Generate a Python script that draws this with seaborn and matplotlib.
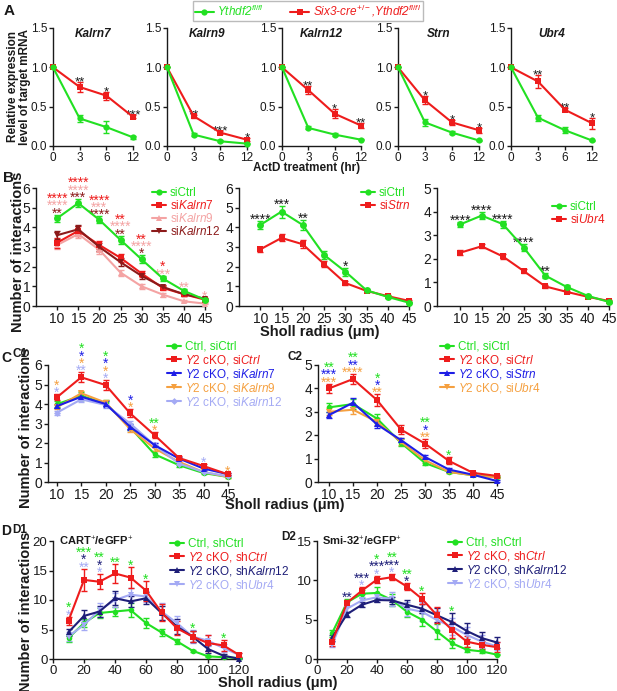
import matplotlib
matplotlib.use('Agg')
import matplotlib.pyplot as plt
import seaborn as sns
from matplotlib.lines import Line2D

# ---------------- data ----------------
# A: mRNA decay after ActD
a_times = [0, 3, 6, 12]
a_genes = ['Kalrn7', 'Kalrn9', 'Kalrn12', 'Strn', 'Ubr4']
a_ctrl = [[1.0, 0.35, 0.24, 0.11],
          [1.0, 0.145, 0.06, 0.03],
          [1.0, 0.23, 0.145, 0.08],
          [1.0, 0.30, 0.17, 0.07],
          [1.0, 0.36, 0.20, 0.07]]
a_ctrl_err = [[0, 0.04, 0.08, 0.02],
              [0, 0.02, 0.01, 0.01],
              [0, 0.02, 0.02, 0.01],
              [0, 0.04, 0.02, 0.01],
              [0, 0.04, 0.04, 0.01]]
a_cko = [[1.0, 0.75, 0.64, 0.37],
         [1.0, 0.38, 0.17, 0.08],
         [1.0, 0.71, 0.41, 0.26],
         [1.0, 0.58, 0.30, 0.20],
         [1.0, 0.82, 0.46, 0.29]]
a_cko_err = [[0, 0.06, 0.05, 0.02],
             [0, 0.02, 0.02, 0.02],
             [0, 0.05, 0.06, 0.03],
             [0, 0.05, 0.03, 0.03],
             [0, 0.08, 0.02, 0.07]]
a_stars = [['**', '*', '***'], ['**', '***', '*'], ['**', '*', '**'],
           ['*', '*', '*'], ['**', '**', '*']]

# B / C: sholl radius 10..45
r_small = [10, 15, 20, 25, 30, 35, 40, 45]
b1_siCtrl = [4.46, 5.23, 4.38, 3.36, 2.37, 1.40, 0.77, 0.32]
b1_siCtrl_err = [0.18, 0.2, 0.18, 0.22, 0.2, 0.15, 0.08, 0.05]
b1_siKalrn7 = [3.22, 3.82, 3.10, 2.45, 1.65, 0.92, 0.60, 0.32]
b1_siKalrn7_err = [0.25, 0.25, 0.2, 0.2, 0.15, 0.12, 0.08, 0.06]
b1_siKalrn9 = [3.10, 3.66, 2.85, 1.70, 1.00, 0.58, 0.24, 0.12]
b1_siKalrn9_err = [0.2, 0.2, 0.2, 0.15, 0.12, 0.1, 0.05, 0.03]
b1_siKalrn12 = [3.60, 3.90, 3.00, 2.23, 1.53, 0.97, 0.60, 0.37]
b1_siKalrn12_err = [0.2, 0.22, 0.18, 0.2, 0.15, 0.12, 0.08, 0.06]

b2_siCtrl = [4.12, 4.80, 4.12, 2.60, 1.75, 0.80, 0.46, 0.17]
b2_siCtrl_err = [0.2, 0.3, 0.25, 0.2, 0.2, 0.08, 0.06, 0.04]
b2_siStrn = [2.88, 3.46, 3.14, 2.14, 1.17, 0.77, 0.50, 0.26]
b2_siStrn_err = [0.12, 0.18, 0.2, 0.15, 0.08, 0.06, 0.05, 0.04]

b3_siCtrl = [3.46, 3.83, 3.47, 2.46, 1.29, 0.81, 0.43, 0.17]
b3_siCtrl_err = [0.12, 0.15, 0.15, 0.15, 0.12, 0.1, 0.05, 0.03]
b3_siUbr4 = [2.26, 2.53, 2.10, 1.47, 0.83, 0.60, 0.39, 0.21]
b3_siUbr4_err = [0.1, 0.08, 0.1, 0.08, 0.05, 0.05, 0.04, 0.03]

c1_ctrl = [3.99, 4.42, 4.03, 2.80, 1.42, 0.86, 0.46, 0.26]
c1_ctrl_err = [0.15, 0.2, 0.15, 0.15, 0.15, 0.08, 0.05, 0.04]
c1_cko = [4.34, 5.37, 4.97, 3.52, 2.40, 1.23, 0.82, 0.39]
c1_cko_err = [0.15, 0.25, 0.25, 0.2, 0.15, 0.08, 0.08, 0.05]
c1_siKalrn7 = [3.89, 4.37, 4.00, 2.83, 1.89, 1.20, 0.69, 0.40]
c1_siKalrn7_err = [0.1, 0.15, 0.15, 0.15, 0.12, 0.08, 0.05, 0.04]
c1_siKalrn9 = [3.83, 4.55, 4.07, 2.71, 1.72, 1.03, 0.51, 0.26]
c1_siKalrn9_err = [0.1, 0.12, 0.12, 0.15, 0.12, 0.08, 0.05, 0.04]
c1_siKalrn12 = [3.55, 4.24, 3.95, 3.00, 1.89, 0.94, 0.51, 0.29]
c1_siKalrn12_err = [0.1, 0.15, 0.15, 0.15, 0.12, 0.08, 0.05, 0.04]

c2_ctrl = [3.19, 3.33, 2.71, 1.67, 0.81, 0.43, 0.29, 0.21]
c2_ctrl_err = [0.18, 0.2, 0.2, 0.15, 0.1, 0.05, 0.04, 0.03]
c2_cko = [4.00, 4.40, 3.50, 2.24, 1.64, 0.90, 0.39, 0.26]
c2_cko_err = [0.2, 0.22, 0.25, 0.2, 0.2, 0.15, 0.05, 0.04]
c2_siStrn = [2.86, 3.39, 2.46, 1.79, 1.07, 0.53, 0.31, 0.04]
c2_siStrn_err = [0.12, 0.2, 0.15, 0.1, 0.1, 0.06, 0.04, 0.03]
c2_siUbr4 = [3.00, 3.09, 2.57, 1.71, 0.93, 0.43, 0.29, 0.19]
c2_siUbr4_err = [0.15, 0.2, 0.15, 0.15, 0.1, 0.06, 0.04, 0.03]

# D: sholl radius 10..120
r_large = [10, 20, 30, 40, 50, 60, 70, 80, 90, 100, 110, 120]
d1_ctrl = [3.55, 6.1, 7.8, 8.05, 8.3, 6.1, 4.5, 3.0, 1.4, 0.45, 0.3, 0.15]
d1_ctrl_err = [0.6, 0.6, 0.8, 0.8, 1.2, 0.9, 0.6, 0.4, 0.2, 0.1, 0.1, 0.05]
d1_cko = [6.5, 13.4, 13.1, 14.5, 13.8, 11.6, 7.9, 5.2, 3.8, 2.7, 2.3, 0.7]
d1_cko_err = [0.7, 1.9, 1.3, 1.6, 1.8, 1.7, 1.5, 1.2, 1.0, 1.3, 1.0, 0.4]
d1_shKalrn12 = [4.55, 7.3, 8.05, 10.3, 9.75, 10.3, 7.8, 5.5, 3.8, 1.7, 0.55, 0.05]
d1_shKalrn12_err = [0.6, 1.0, 1.0, 1.2, 1.0, 1.0, 1.2, 1.2, 0.9, 0.6, 0.3, 0.1]
d1_shUbr4 = [3.8, 5.8, 8.3, 10.0, 10.9, 10.6, 8.05, 6.1, 3.8, 3.1, 1.85, 0.7]
d1_shUbr4_err = [0.8, 0.8, 1.2, 1.2, 1.2, 1.0, 1.5, 1.2, 1.1, 0.9, 0.7, 0.4]

d2_ctrl = [3.26, 7.2, 8.3, 8.4, 7.5, 6.0, 5.0, 3.5, 2.0, 1.17, 0.96, 0.55]
d2_ctrl_err = [0.4, 0.4, 0.5, 0.8, 0.7, 0.7, 0.8, 0.9, 0.6, 0.3, 0.2, 0.1]
d2_cko = [2.1, 7.15, 8.7, 10.1, 10.4, 9.2, 7.65, 5.55, 3.7, 2.2, 1.8, 1.5]
d2_cko_err = [0.5, 0.4, 0.4, 0.5, 0.4, 0.4, 0.7, 1.0, 1.0, 0.7, 0.5, 0.6]
d2_shKalrn12 = [2.7, 5.7, 6.9, 7.5, 7.45, 6.9, 6.4, 5.55, 4.7, 3.55, 2.65, 2.1]
d2_shKalrn12_err = [0.4, 0.3, 0.3, 0.3, 0.4, 0.6, 0.6, 0.9, 1.2, 1.0, 0.8, 0.7]
d2_shUbr4 = [1.8, 6.4, 7.45, 7.85, 7.65, 6.4, 6.0, 4.95, 4.1, 3.05, 2.2, 1.6]
d2_shUbr4_err = [0.3, 0.4, 0.4, 0.4, 0.9, 0.9, 1.2, 1.2, 1.1, 1.0, 0.8, 0.5]

# ---------------- style ----------------
GREEN = '#22e022'
RED = '#ee1c1c'
PINK = '#f4a3a3'
DKRED = '#8c1a1a'
BLUE = '#1e1ee6'
ORANGE = '#f5a040'
LAV = '#a4aaf4'
NAVY = '#1e1e78'
INK = '#1a1a1a'

sns.set_theme(style='ticks')
plt.rcParams['font.family'] = ['Liberation Sans', 'DejaVu Sans']
plt.rcParams['mathtext.fontset'] = 'custom'
plt.rcParams['mathtext.rm'] = 'Liberation Sans'
plt.rcParams['mathtext.it'] = 'Liberation Sans:italic'
plt.rcParams['mathtext.bf'] = 'Liberation Sans:bold'
plt.rcParams['axes.edgecolor'] = INK
plt.rcParams['axes.linewidth'] = 1.0
plt.rcParams['xtick.color'] = INK
plt.rcParams['ytick.color'] = INK
plt.rcParams['xtick.major.size'] = 3
plt.rcParams['ytick.major.size'] = 3
plt.rcParams['xtick.major.pad'] = 1.5
plt.rcParams['ytick.major.pad'] = 1
plt.rcParams['text.color'] = INK

W, H = 617, 691
fig = plt.figure(figsize=(W / 100, H / 100), dpi=100)


def make_ax(x0, x1, y0, y1):
    return fig.add_axes([x0 / W, 1 - y1 / H, (x1 - x0) / W, (y1 - y0) / H])


def series(ax, x, y, err, color, marker, ms=5, lw=1.5):
    ax.errorbar(x, y, yerr=err, fmt='none', ecolor=color, elinewidth=1,
                capsize=2.5, capthick=1, clip_on=False, zorder=3)
    sns.lineplot(x=x, y=y, color=color, marker=marker, markersize=ms,
                 markeredgewidth=0, linewidth=lw, ax=ax, clip_on=False,
                 zorder=4)


def stars(ax, x, top, groups, fs=10, base=-2.0):
    for i, (txt, col) in enumerate(reversed(groups)):
        ax.annotate(txt, (x, top), xytext=(0, base + i * 5.3),
                    textcoords='offset points', ha='center', va='baseline',
                    color=col, fontsize=fs, annotation_clip=False)


def style(ax, xlim, xticks, ylim, yticks, fs=10):
    ax.set_xlim(*xlim)
    ax.set_ylim(*ylim)
    ax.set_xticks(xticks)
    ax.set_yticks(yticks)
    ax.tick_params(labelsize=fs, width=1)
    sns.despine(ax=ax)
    ax.set_xlabel('')
    ax.set_ylabel('')


def legend(ax, handles, labels, x, y, fs=8.5):
    ax.legend(handles, labels, loc='upper left',
              bbox_to_anchor=(x / W, 1 - y / H), bbox_transform=fig.transFigure,
              frameon=False, fontsize=fs, borderpad=0, handlelength=1.2,
              handletextpad=0.3, labelspacing=0.0, labelcolor='linecolor')


def handle(color, marker, ms=4.5):
    return Line2D([0], [0], color=color, marker=marker, lw=1.5, ms=ms,
                  markeredgewidth=0)


def sholl(ax, x, lines, star_list):
    for y, e, c, m, ms in lines:
        series(ax, x, y, e, c, m, ms)
    for xi, groups in star_list:
        i = x.index(xi)
        top = max(y[i] + e[i] for y, e, c, m, ms in lines)
        stars(ax, xi, top, groups)


# ---------------- panel A ----------------
a_pos = list(range(len(a_times)))
a_x = [(53, 133), (167, 247), (282, 361), (398, 479), (511, 592)]
for k, gene in enumerate(a_genes):
    ax = make_ax(a_x[k][0], a_x[k][1], 28, 146)
    series(ax, a_pos, a_cko[k], a_cko_err[k], RED, 's', 4.5)
    series(ax, a_pos, a_ctrl[k], a_ctrl_err[k], GREEN, 'o', 4.5)
    for j, s in enumerate(a_stars[k]):
        top = max(a_cko[k][j + 1] + a_cko_err[k][j + 1],
                  a_ctrl[k][j + 1] + a_ctrl_err[k][j + 1])
        stars(ax, a_pos[j + 1], top, [(s, INK)], fs=9.5, base=-2.5)
    style(ax, (0, 3), a_pos, (0, 1.5), [0, 0.5, 1.0, 1.5], fs=8.5)
    ax.set_xticklabels([str(t) for t in a_times])
    ax.set_yticklabels(['0.0', '0.5', '1.0', '1.5'])
    ax.text(0.5, 0.95, gene, transform=ax.transAxes, ha='center', va='center',
            fontsize=8.5, fontweight='bold', fontstyle='italic')

fig.legend([handle(GREEN, 'o'), handle(RED, 's')],
           ['Ythdf2$^{fl/fl}$', 'Six3-cre$^{+/-}$,Ythdf2$^{fl/fl}$'],
           loc='upper left', bbox_to_anchor=(192 / W, 1.0), ncol=2,
           frameon=True, fancybox=False, edgecolor='#bbbbbb', framealpha=1,
           prop={'style': 'italic', 'size': 8.5}, labelcolor='linecolor',
           handlelength=1.6, handletextpad=0.3, columnspacing=2.2,
           borderpad=0.15, borderaxespad=0.1)
fig.text(4 / W, 1 - 11 / H, 'A', fontsize=11, fontweight='bold', va='center')
fig.text(19 / W, 1 - 87 / H, 'Relative expression\nlevel of target mRNA',
         rotation=90, ha='center', va='center', fontsize=8.5,
         fontweight='bold', linespacing=1.1)
fig.text(307 / W, 1 - 168 / H, 'ActD treatment (hr)', ha='center',
         va='center', fontsize=8.5, fontweight='bold')

# ---------------- panel B ----------------
ax = make_ax(36, 205, 188, 306)
sholl(ax, r_small,
      [(b1_siKalrn9, b1_siKalrn9_err, PINK, '^', 5),
       (b1_siKalrn7, b1_siKalrn7_err, RED, 's', 5),
       (b1_siKalrn12, b1_siKalrn12_err, DKRED, 'v', 5),
       (b1_siCtrl, b1_siCtrl_err, GREEN, 'o', 5)],
      [(10, [('****', RED), ('****', PINK), ('**', DKRED)]),
       (15, [('****', RED), ('****', PINK), ('***', DKRED)]),
       (20, [('****', RED), ('***', PINK), ('****', DKRED)]),
       (25, [('**', RED), ('****', PINK), ('**', DKRED)]),
       (30, [('**', RED), ('****', PINK), ('*', DKRED)]),
       (35, [('*', RED), ('***', PINK)]),
       (40, [('**', PINK)]),
       (45, [('*', PINK)])])
style(ax, (5, 45), r_small, (0, 6), range(7))
legend(ax, [handle(GREEN, 'o'), handle(RED, 's'), handle(PINK, '^'),
            handle(DKRED, 'v')],
       ['siCtrl', r'si$\mathit{Kalrn7}$', r'si$\mathit{Kalrn9}$',
        r'si$\mathit{Kalrn12}$'], 146, 181, fs=8.5)

ax = make_ax(239, 409, 188, 306)
sholl(ax, r_small,
      [(b2_siStrn, b2_siStrn_err, RED, 's', 5),
       (b2_siCtrl, b2_siCtrl_err, GREEN, 'o', 5)],
      [(10, [('****', INK)]), (15, [('***', INK)]), (20, [('**', INK)]),
       (30, [('*', INK)])])
style(ax, (5, 45), r_small, (0, 6), range(7))
legend(ax, [handle(GREEN, 'o'), handle(RED, 's')],
       ['siCtrl', r'si$\mathit{Strn}$'], 355, 181)

ax = make_ax(437, 609, 188, 306)
sholl(ax, r_small,
      [(b3_siUbr4, b3_siUbr4_err, RED, 's', 5),
       (b3_siCtrl, b3_siCtrl_err, GREEN, 'o', 5)],
      [(10, [('****', INK)]), (15, [('****', INK)]), (20, [('****', INK)]),
       (25, [('****', INK)]), (30, [('**', INK)])])
style(ax, (4.5, 45), r_small, (0, 5), range(6))
legend(ax, [handle(GREEN, 'o'), handle(RED, 's')],
       ['siCtrl', r'si$\mathit{Ubr4}$'], 546, 195)

fig.text(3 / W, 1 - 178 / H, 'B', fontsize=11, fontweight='bold', va='center')
fig.text(18 / W, 1 - 252 / H, 'Number of interactions', rotation=90,
         ha='center', va='center', fontsize=10.5, fontweight='bold')
fig.text(320 / W, 1 - 332 / H, 'Sholl radius (μm)', ha='center', va='center',
         fontsize=10.5, fontweight='bold')

# ---------------- panel C ----------------
ax = make_ax(48, 228, 365, 482)
sholl(ax, r_small,
      [(c1_ctrl, c1_ctrl_err, GREEN, 'o', 4),
       (c1_siKalrn9, c1_siKalrn9_err, ORANGE, 'v', 4),
       (c1_siKalrn12, c1_siKalrn12_err, LAV, 'D', 3.5),
       (c1_siKalrn7, c1_siKalrn7_err, BLUE, '^', 4),
       (c1_cko, c1_cko_err, RED, 's', 5)],
      [(10, [('*', ORANGE), ('*', LAV)]),
       (15, [('*', GREEN), ('*', BLUE), ('*', ORANGE), ('**', LAV)]),
       (20, [('*', GREEN), ('*', BLUE), ('*', ORANGE), ('*', LAV)]),
       (25, [('*', BLUE), ('*', ORANGE)]),
       (30, [('**', GREEN), ('*', ORANGE)]),
       (40, [('*', LAV)]),
       (45, [('*', ORANGE)])])
style(ax, (8.2, 45), r_small, (0, 6), range(7))
legend(ax, [handle(GREEN, 'o'), handle(RED, 's'), handle(BLUE, '^'),
            handle(ORANGE, 'v'), handle(LAV, 'D', 3.5)],
       ['Ctrl, siCtrl', r'$\mathit{Y2}$ cKO, si$\mathit{Ctrl}$',
        r'$\mathit{Y2}$ cKO, si$\mathit{Kalrn7}$',
        r'$\mathit{Y2}$ cKO, si$\mathit{Kalrn9}$',
        r'$\mathit{Y2}$ cKO, si$\mathit{Kalrn12}$'], 161, 335)

ax = make_ax(318, 497, 365, 482)
sholl(ax, r_small,
      [(c2_ctrl, c2_ctrl_err, GREEN, 'o', 4),
       (c2_siUbr4, c2_siUbr4_err, ORANGE, 'v', 4),
       (c2_siStrn, c2_siStrn_err, BLUE, '^', 4),
       (c2_cko, c2_cko_err, RED, 's', 5)],
      [(10, [('**', GREEN), ('***', BLUE), ('***', ORANGE)]),
       (15, [('**', GREEN), ('**', BLUE), ('****', ORANGE)]),
       (20, [('*', GREEN), ('*', BLUE), ('**', ORANGE)]),
       (30, [('**', GREEN), ('*', BLUE), ('**', ORANGE)]),
       (35, [('*', GREEN)])])
style(ax, (7.7, 45), r_small, (0, 5), range(6))
legend(ax, [handle(GREEN, 'o'), handle(RED, 's'), handle(BLUE, '^'),
            handle(ORANGE, 'v')],
       ['Ctrl, siCtrl', r'$\mathit{Y2}$ cKO, si$\mathit{Ctrl}$',
        r'$\mathit{Y2}$ cKO, si$\mathit{Strn}$',
        r'$\mathit{Y2}$ cKO, si$\mathit{Ubr4}$'], 434, 335)

fig.text(1 / W, 1 - 358 / H, 'C', fontsize=10, fontweight='bold', va='center')
fig.text(12 / W, 1 - 354 / H, 'C1', fontsize=8.5, fontweight='bold', va='center')
fig.text(288 / W, 1 - 357 / H, 'C2', fontsize=8.5, fontweight='bold', va='center')
fig.text(26 / W, 1 - 428 / H, 'Number of interactions', rotation=90,
         ha='center', va='center', fontsize=10.5, fontweight='bold')
fig.text(285 / W, 1 - 505 / H, 'Sholl radius (μm)', ha='center', va='center',
         fontsize=10.5, fontweight='bold')

# ---------------- panel D ----------------
ax = make_ax(53, 239, 541, 659)
sholl(ax, r_large,
      [(d1_ctrl, d1_ctrl_err, GREEN, 'o', 4),
       (d1_shUbr4, d1_shUbr4_err, LAV, 'v', 4),
       (d1_shKalrn12, d1_shKalrn12_err, NAVY, '^', 4),
       (d1_cko, d1_cko_err, RED, 's', 5)],
      [(10, [('*', GREEN), ('*', LAV)]),
       (20, [('***', GREEN), ('*', NAVY), ('**', LAV)]),
       (30, [('**', GREEN), ('*', NAVY), ('*', LAV)]),
       (40, [('**', GREEN)]), (50, [('*', GREEN)]), (60, [('*', GREEN)]),
       (90, [('*', GREEN)]), (110, [('*', GREEN)])])
style(ax, (0, 120), range(0, 121, 20), (0, 20), range(0, 21, 5), fs=9.5)
ax.text(0.03, 1.05, 'CART$^{+}$/eGFP$^{+}$', transform=ax.transAxes,
        ha='left', va='top', fontsize=8, fontweight='bold')
legend(ax, [handle(GREEN, 'o'), handle(RED, 's'), handle(NAVY, '^'),
            handle(LAV, 'v')],
       ['Ctrl, shCtrl', r'$\mathit{Y2}$ cKO, sh$\mathit{Ctrl}$',
        r'$\mathit{Y2}$ cKO, sh$\mathit{Kalrn12}$',
        r'$\mathit{Y2}$ cKO, sh$\mathit{Ubr4}$'], 164, 532)

ax = make_ax(317, 497, 541, 659)
sholl(ax, r_large,
      [(d2_ctrl, d2_ctrl_err, GREEN, 'o', 4),
       (d2_shUbr4, d2_shUbr4_err, LAV, 'v', 4),
       (d2_shKalrn12, d2_shKalrn12_err, NAVY, '^', 4),
       (d2_cko, d2_cko_err, RED, 's', 5)],
      [(20, [('**', NAVY)]),
       (30, [('***', NAVY), ('*', LAV)]),
       (40, [('*', GREEN), ('***', NAVY), ('*', LAV)]),
       (50, [('**', GREEN), ('***', NAVY), ('*', LAV)]),
       (60, [('**', GREEN), ('*', NAVY)]),
       (70, [('*', GREEN)]), (90, [('*', GREEN)])])
style(ax, (0, 120), range(0, 121, 20), (0, 15), range(0, 16, 5), fs=9.5)
ax.text(0.03, 1.05, 'Smi-32$^{+}$/eGFP$^{+}$', transform=ax.transAxes,
        ha='left', va='top', fontsize=8, fontweight='bold')
legend(ax, [handle(GREEN, 'o'), handle(RED, 's'), handle(NAVY, '^'),
            handle(LAV, 'v')],
       ['Ctrl, shCtrl', r'$\mathit{Y2}$ cKO, sh$\mathit{Ctrl}$',
        r'$\mathit{Y2}$ cKO, sh$\mathit{Kalrn12}$',
        r'$\mathit{Y2}$ cKO, sh$\mathit{Ubr4}$'], 442, 531)

fig.text(1 / W, 1 - 531 / H, 'D', fontsize=10, fontweight='bold', va='center')
fig.text(12 / W, 1 - 530 / H, 'D1', fontsize=8.5, fontweight='bold', va='center')
fig.text(281 / W, 1 - 537 / H, 'D2', fontsize=8.5, fontweight='bold', va='center')
fig.text(26 / W, 1 - 612 / H, 'Number of interactions', rotation=90,
         ha='center', va='center', fontsize=10.5, fontweight='bold')
fig.text(278 / W, 1 - 683 / H, 'Sholl radius (μm)', ha='center', va='center',
         fontsize=10.5, fontweight='bold')

fig.savefig('out.png', dpi=100)
